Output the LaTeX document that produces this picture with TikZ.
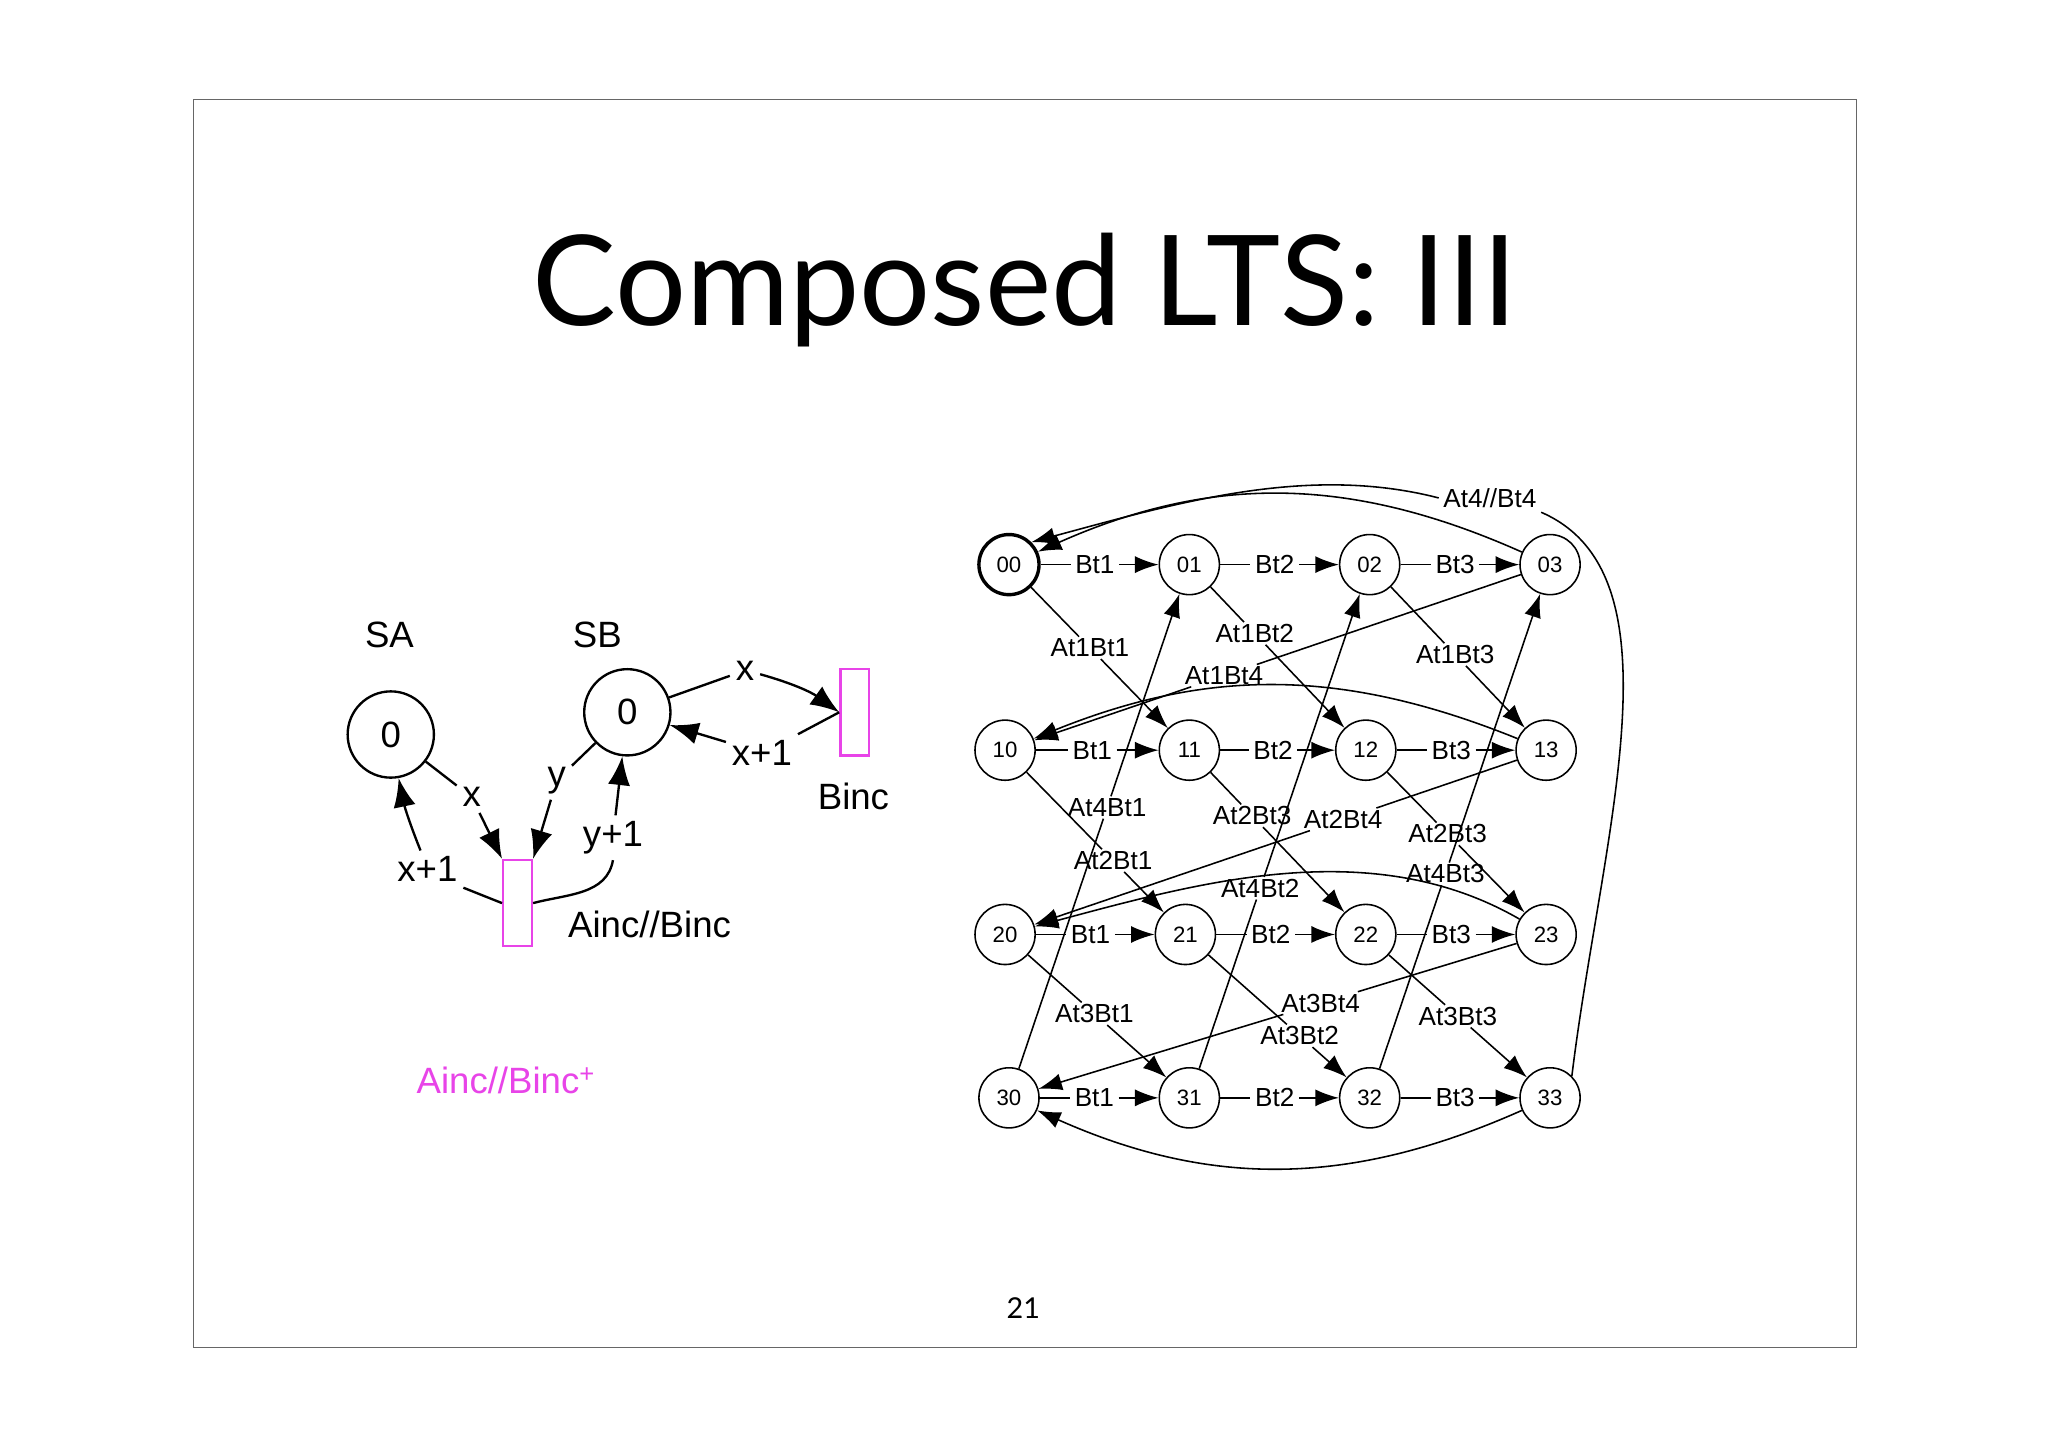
\documentclass[tikz,border=0pt]{standalone}
\usepackage{fontspec}
\setmainfont{Liberation Sans}
\newfontfamily\titlefont{Lato}
\usetikzlibrary{arrows.meta}
\definecolor{mag}{RGB}{232,68,232}
\begin{document}
\begin{tikzpicture}[x=1pt,y=-1pt,
  st/.style={draw,circle,line width=1.2pt,minimum size=46pt,inner sep=0pt,font=\fontsize{17}{17}\selectfont},
  lb/.style={inner sep=3pt,font=\fontsize{20}{20}\selectfont},
  big/.style={inner sep=4pt,font=\fontsize{28}{28}\selectfont},
  ar/.style={-{Latex[length=18pt,width=13pt]}},
  arb/.style={-{Latex[length=22pt,width=17pt]},line width=1.8pt},
  lnb/.style={line width=1.8pt},
  every path/.style={line width=1.2pt}]
\useasboundingbox (0,0) rectangle (1567,1107.2);
\fill[white] (0,0) rectangle (1567,1107.2);
\draw[line width=0.6pt,black!60] (148,76) rectangle (1420,1031);
\node[font=\titlefont\fontsize{96}{96}\selectfont] (title) at (784,222) {Composed LTS: III};
\node[font=\titlefont\fontsize{22}{22}\selectfont] (pg) at (783,1001) {21};

% ---- left diagram
\node[big] (SAl) at (298,486) {SA};
\node[big] (SBl) at (457,486) {SB};
\node[draw,circle,line width=1.8pt,minimum size=66pt,inner sep=0pt,font=\fontsize{28}{28}\selectfont] (SA) at (299,562) {0};
\node[draw,circle,line width=1.8pt,minimum size=66pt,inner sep=0pt,font=\fontsize{28}{28}\selectfont] (SB) at (480,545) {0};
\node[draw=mag,line width=1.8pt,minimum width=22pt,minimum height=66pt,inner sep=0pt] (AB) at (396,691) {};
\node[draw=mag,line width=1.8pt,minimum width=22pt,minimum height=66pt,inner sep=0pt] (BI) at (654,545) {};
\node[big] (ABl) at (497,707) {Ainc//Binc};
\node[big] (BIl) at (653,609) {Binc};
\node[big,text=mag] (plus) at (387,827) {Ainc//Binc\textsuperscript{+}};

\node[big] (lx1) at (361,610) {x};
\node[big] (lx2) at (327,665) {x+1};
\node[big] (ly1) at (426,597) {y};
\node[big] (ly2) at (469,641) {y+1};
\node[big] (lx3) at (570,513) {x};
\node[big] (lx4) at (583,576) {x+1};
\draw[lnb] (SA) -- (lx1); \draw[arb] (lx1) -- (AB.north west);
\draw[lnb] (AB.west) -- (lx2.south east); \draw[arb] (lx2) to[bend left=5] (SA);
\draw[lnb] (SB) -- (ly1); \draw[arb] (ly1) -- (AB.north east);
\draw[lnb] (AB.east) to[out=15,in=-100] (ly2.south); \draw[arb] (ly2) -- (SB);
\draw[lnb] (SB) -- (lx3); \draw[arb] (lx3) to[bend left=10] (BI.west);
\draw[lnb] (BI.west) -- (lx4.north east); \draw[arb] (lx4) -- (SB);

% ---- right graph
\node[st,line width=2.6pt] (n00) at (772,432) {00};
\node[st] (n01) at (910,432) {01};
\node[st] (n02) at (1048,432) {02};
\node[st] (n03) at (1186,432) {03};
\node[st] (n10) at (769,574) {10};
\node[st] (n11) at (910,574) {11};
\node[st] (n12) at (1045,574) {12};
\node[st] (n13) at (1183,574) {13};
\node[st] (n20) at (769,715) {20};
\node[st] (n21) at (907,715) {21};
\node[st] (n22) at (1045,715) {22};
\node[st] (n23) at (1183,715) {23};
\node[st] (n30) at (772,840) {30};
\node[st] (n31) at (910,840) {31};
\node[st] (n32) at (1048,840) {32};
\node[st] (n33) at (1186,840) {33};

% row edges
\foreach \r in {0,1,2,3}{
  \path (n\r0) -- node[lb,pos=0.46] (h\r1) {Bt1} (n\r1);
  \path (n\r1) -- node[lb,pos=0.46] (h\r2) {Bt2} (n\r2);
  \path (n\r2) -- node[lb,pos=0.46] (h\r3) {Bt3} (n\r3);
  \draw (n\r0) -- (h\r1); \draw[ar] (h\r1) -- (n\r1);
  \draw (n\r1) -- (h\r2); \draw[ar] (h\r2) -- (n\r2);
  \draw (n\r2) -- (h\r3); \draw[ar] (h\r3) -- (n\r3);
}

% diagonal edges: from, to, pos, label
\foreach \a/\b/\p/\t/\k in {
  n00/n11/0.43/At1Bt1/d1, n01/n12/0.33/At1Bt2/d2, n02/n13/0.48/At1Bt3/d3,
  n03/n10/0.61/At1Bt4/d4, n30/n01/0.55/At4Bt1/d5, n10/n21/0.63/At2Bt1/d6,
  n11/n22/0.31/At2Bt3/d7, n13/n20/0.36/At2Bt4/d8, n12/n23/0.44/At2Bt3/d9,
  n32/n03/0.41/At4Bt3/d10, n31/n02/0.38/At4Bt2/d11, n20/n31/0.48/At3Bt1/d12,
  n23/n30/0.41/At3Bt4/d13, n21/n32/0.66/At3Bt2/d14, n22/n33/0.5/At3Bt3/d15}{
  \path (\a) -- node[lb,pos=\p,inner sep=1pt] (\k) {\t} (\b);
  \draw (\a) -- (\k); \draw[ar] (\k) -- (\b);
}

% back arcs
\draw[ar] (n03) to[bend right=24] (n00);
\draw[ar] (n13) to[bend right=22] (n10);
\draw[ar] (n23) to[out=150,in=15,looseness=0.9] (n20);
\draw[ar] (n33) to[bend left=24] (n30);

% At4//Bt4
\node[lb] (g) at (1140,381) {At4//Bt4};
\draw (n33.north east) .. controls (1225,640) and (1290,440) .. (g.south east);
\draw[ar] (g.west) .. controls (1000,355) and (900,385) .. (n00.north east);
\end{tikzpicture}
\end{document}
